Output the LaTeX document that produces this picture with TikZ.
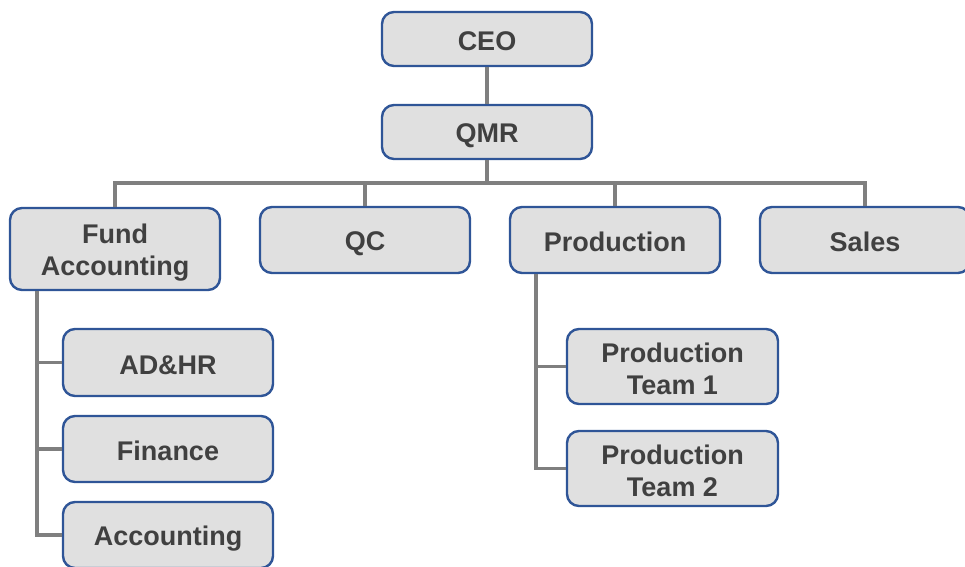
\documentclass[tikz,border=0pt]{standalone}
\usepackage{fontspec}
\setmainfont{Liberation Sans}
\definecolor{boxfill}{HTML}{E0E0E0}
\definecolor{boxline}{HTML}{2F5597}
\definecolor{conn}{HTML}{7F7F7F}
\definecolor{txt}{HTML}{404040}
\newcommand\boxstrut{\rule[-3pt]{0pt}{29pt}}
\begin{document}
\begin{tikzpicture}[x=1pt,y=-1pt,
  orgbox/.style={draw=boxline, fill=boxfill, line width=2.4pt, rounded corners=12pt,
    minimum width=210pt, align=center, text=txt, inner sep=0pt,
    font=\fontsize{27}{32}\selectfont\bfseries},
  link/.style={draw=conn, line width=3.3pt}]
\useasboundingbox (0,0) rectangle (965,566);
\node[orgbox, minimum height=54pt] (ceo) at (487,39) {\boxstrut CEO};
\node[orgbox, minimum height=54pt] (qmr) at (487,132) {\boxstrut QMR};
\node[orgbox, minimum height=82pt] (fund) at (115,249) {\boxstrut Fund\\\boxstrut Accounting};
\node[orgbox, minimum height=66pt] (qc) at (365,240) {\boxstrut QC};
\node[orgbox, minimum height=66pt] (prod) at (615,240) {\boxstrut Production};
\node[orgbox, minimum height=66pt] (sales) at (865,240) {\boxstrut Sales};
\node[orgbox, minimum height=67pt] (adhr) at (168,362.5) {\boxstrut AD\&HR};
\node[orgbox, minimum height=66pt] (fin) at (168,449) {\boxstrut Finance};
\node[orgbox, minimum height=66pt] (acc) at (168,535) {\boxstrut Accounting};
\node[orgbox, minimum width=211pt, minimum height=75pt] (pt1) at (672.5,366.5) {\boxstrut Production\\\boxstrut Team 1};
\node[orgbox, minimum width=211pt, minimum height=75pt] (pt2) at (672.5,468.5) {\boxstrut Production\\\boxstrut Team 2};
\coordinate (bus) at (487,183);
\coordinate (fs) at ([xshift=-78pt]fund.south);
\coordinate (ps) at ([xshift=-79pt]prod.south);
\draw[link] (ceo.south) -- (qmr.north);
\draw[link] (qmr.south) -- (bus);
\draw[link] (fund.north) |- (bus) -| (sales.north);
\draw[link] (qc.north) |- (bus);
\draw[link] (prod.north) |- (bus);
\draw[link] (fs) |- (adhr.west);
\draw[link] (fs) |- (fin.west);
\draw[link] (fs) |- (acc.west);
\draw[link] (ps) |- (pt1.west);
\draw[link] (ps) |- (pt2.west);
\end{tikzpicture}
\end{document}
